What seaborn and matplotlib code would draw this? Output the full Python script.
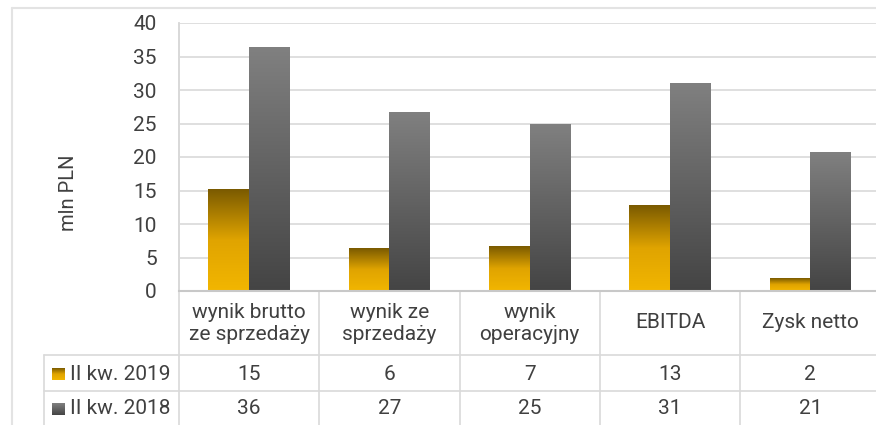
import numpy as np
import pandas as pd
import seaborn as sns
import matplotlib.pyplot as plt
from matplotlib.colors import LinearSegmentedColormap
from matplotlib.transforms import blended_transform_factory

# data
categories = ["wynik brutto\nze sprzedaży", "wynik ze\nsprzedaży", "wynik\noperacyjny", "EBITDA", "Zysk netto"]
series = ["II kw. 2019", "II kw. 2018"]
values_2019 = [15.2, 6.3, 6.6, 12.7, 1.8]
values_2018 = [36.4, 26.6, 24.9, 30.9, 20.6]
table_2019 = [15, 6, 7, 13, 2]
table_2018 = [36, 27, 25, 31, 21]
yticks = [0, 5, 10, 15, 20, 25, 30, 35, 40]

W, H = 876, 425
TXT = "#404040"
GRID = "#D9D9D9"
FS = 15
gold = LinearSegmentedColormap.from_list("gold", ["#F2B600", "#E0A400", "#7A5A00"])
gray = LinearSegmentedColormap.from_list("gray", ["#444444", "#808080"])
cmaps = [gold, gray]

sns.set_theme(style="white", rc={"axes.facecolor": "white", "figure.facecolor": "white"})
plt.rcParams["font.family"] = ["Roboto", "DejaVu Sans"]

df = pd.DataFrame({
    "kat": categories * 2,
    "seria": [series[0]] * 5 + [series[1]] * 5,
    "wartosc": values_2019 + values_2018,
})


def px(x0, y0, x1, y1):
    return [x0 / W, 1 - y1 / H, (x1 - x0) / W, (y1 - y0) / H]


fig = plt.figure(figsize=(W / 100, H / 100), dpi=100)
ax = fig.add_axes(px(179, 23, 880.5, 291))
sns.barplot(data=df, x="kat", y="wartosc", hue="seria", ax=ax, width=0.58,
            palette=["#F2B600", "#444444"], legend=False, errorbar=None)

# gradient fill for each bar
grad = np.linspace(0, 1, 256).reshape(-1, 1)
for cont, cm in zip(ax.containers, cmaps):
    for bar in cont:
        x, w, h = bar.get_x(), bar.get_width(), bar.get_height()
        ax.imshow(grad, extent=[x, x + w, 0, h], aspect="auto", cmap=cm,
                  origin="lower", zorder=2)
        bar.set_visible(False)

ax.set_xlim(-0.5, 4.5)
ax.set_ylim(0, 40)
ax.set_yticks(yticks)
ax.yaxis.grid(True, color=GRID, lw=1.2)
ax.set_axisbelow(True)
for s in ["top", "right"]:
    ax.spines[s].set_visible(False)
ax.spines["left"].set_color(GRID)
ax.spines["bottom"].set_color("#C8C8C8")
ax.spines["bottom"].set_linewidth(1.5)
ax.tick_params(axis="y", length=0, pad=16, labelsize=FS, labelcolor=TXT)
ax.tick_params(axis="x", length=0, labelbottom=False)
ax.set_xlabel("")
ax.set_ylabel("")
fig.text(68 / W, 1 - 193 / H, "mln PLN", rotation=90, ha="center", va="center",
         fontsize=14.5, color=TXT)

# data table below the plot
tr = blended_transform_factory(ax.transData, fig.transFigure)
fy = lambda y: 1 - y / H
for i, cat in enumerate(categories):
    ax.text(i, fy(323), cat, transform=tr, ha="center", va="center", fontsize=FS,
            color=TXT, linespacing=1.2, clip_on=False)
    ax.text(i, fy(374), f"{table_2019[i]}", transform=tr, ha="center", va="center",
            fontsize=FS, color=TXT, clip_on=False)
    ax.text(i, fy(409), f"{table_2018[i]}", transform=tr, ha="center", va="center",
            fontsize=FS, color=TXT, clip_on=False)
for b in np.arange(-0.5, 5, 1.0):
    top = 23 if b == -0.5 else 291
    ax.plot([b, b], [fy(top), fy(425)], transform=tr, color=GRID, lw=1.2, clip_on=False)
for y in [355, 391]:
    fig.add_artist(plt.Line2D([44 / W, 1], [fy(y), fy(y)], color=GRID, lw=1.2))
fig.add_artist(plt.Line2D([44 / W, 44 / W], [fy(355), 0], color=GRID, lw=1.2))

# legend keys inside the table
for (yc, name, cm) in [(374, series[0], gold), (409, series[1], gray)]:
    kax = fig.add_axes(px(52, yc - 6, 65, yc + 6))
    kax.imshow(grad, aspect="auto", cmap=cm, origin="lower")
    kax.axis("off")
    fig.text(70 / W, fy(yc), name, ha="left", va="center", fontsize=FS, color=TXT)

# outer chart frame
fig.add_artist(plt.Line2D([12 / W, 12 / W], [fy(8), 0], color="#E3E3E3", lw=1.5))
fig.add_artist(plt.Line2D([12 / W, 1], [fy(8), fy(8)], color="#E3E3E3", lw=1.5))

fig.savefig("out.png", dpi=100)
